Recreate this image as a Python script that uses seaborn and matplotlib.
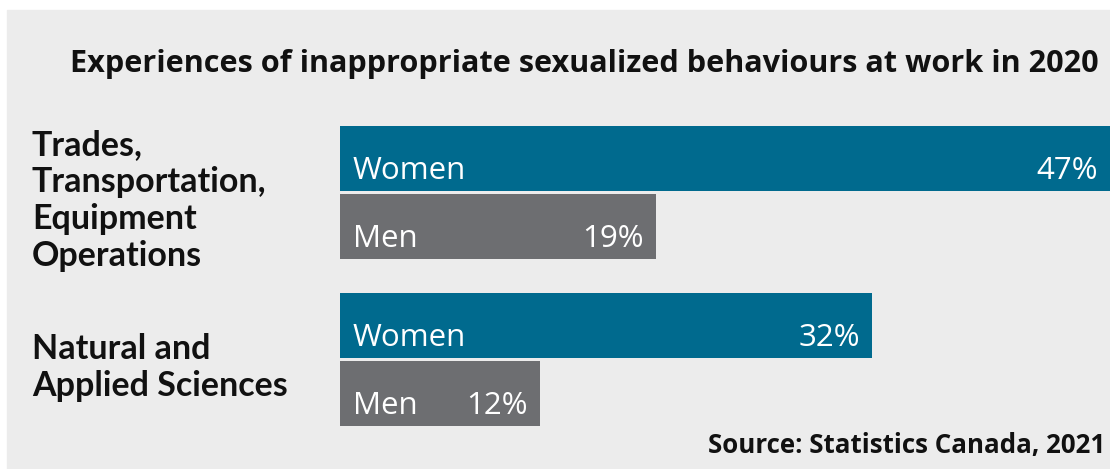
import pandas as pd
import seaborn as sns
import matplotlib.pyplot as plt
from matplotlib.patches import Rectangle

sns.set_theme(style="white")
plt.rcParams['font.family'] = ['Lato', 'DejaVu Sans']

# data
categories = ["Trades,\nTransportation,\nEquipment\nOperations", "Natural and\nApplied Sciences"]
genders = ["Women", "Men"]
women = [47, 32]
men = [19, 12]

rows = []
for cat, w, m in zip(categories, women, men):
    rows.append((cat, "Women", w))
    rows.append((cat, "Men", m))
df = pd.DataFrame(rows, columns=['category', 'gender', 'value'])

W, H = 1110, 469
fig = plt.figure(figsize=(W / 100, H / 100), dpi=100)
fig.patch.set_facecolor('white')
# grey panel with thin white margin top/left
fig.patches.append(Rectangle((7 / W, 0), 1, (H - 10) / H, transform=fig.transFigure,
                             color='#ececec', zorder=-5))

ax = fig.add_axes([340 / W, 0, 1 - 340 / W, 1])
ax.set_facecolor('none')
sns.barplot(data=df, y='category', x='value', hue='gender', hue_order=genders,
            palette={'Women': '#006a8e', 'Men': '#6d6e71'}, orient='h',
            width=0.81, gap=0.045, saturation=1, legend=False, linewidth=0, ax=ax)

px_per_unit = 167.0
ax.set_xlim(0, 46.3)
ax.set_ylim((H - 192.5) / px_per_unit, -192.5 / px_per_unit)
ax.axis('off')

xmax = ax.get_xlim()[1]
vals = {'Women': women, 'Men': men}
for g, cont in zip(genders, ax.containers):
    for bar, v in zip(cont, vals[g]):
        x0 = bar.get_x()
        x1 = min(bar.get_x() + bar.get_width(), xmax)
        yb = bar.get_y() + bar.get_height()
        ax.annotate(g, xy=(x0, yb), xytext=(13, 12), textcoords='offset pixels',
                    ha='left', va='baseline', color='white', fontsize=22.5,
                    family=['Open Sans', 'DejaVu Sans'])
        ax.annotate(f"{v}%", xy=(x1, yb), xytext=(-12, 12), textcoords='offset pixels',
                    ha='right', va='baseline', color='white', fontsize=22.5,
                    family=['Open Sans', 'DejaVu Sans'])

for i, cat in enumerate(categories):
    y_fig = 1 - (192.5 + i * px_per_unit + 8) / H
    fig.text(32 / W, y_fig, cat, ha='left', va='center', fontsize=24.5,
             fontweight='bold', color='#111111', linespacing=1.2)

fig.text(70 / W, 1 - 72 / H, "Experiences of inappropriate sexualized behaviours at work in 2020",
         ha='left', va='baseline', fontsize=22.1, fontweight='bold', color='#111111',
         family=['Open Sans', 'DejaVu Sans'])
fig.text(1105 / W, 1 - 453 / H, "Source: Statistics Canada, 2021",
         ha='right', va='baseline', fontsize=18.6, fontweight='bold', color='#111111',
         family=['Open Sans', 'DejaVu Sans'])

plt.savefig('out.png', dpi=100, facecolor=fig.get_facecolor())
